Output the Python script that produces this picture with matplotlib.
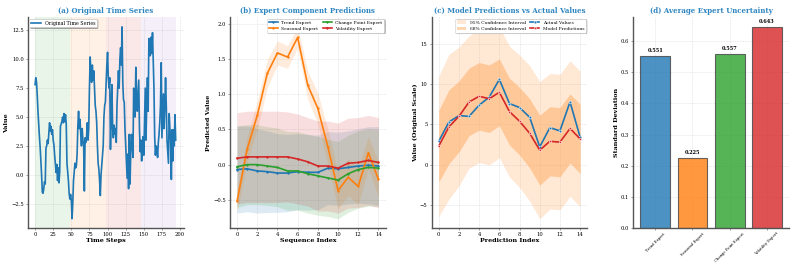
import numpy as np
import matplotlib
matplotlib.use("Agg")
import matplotlib.pyplot as plt

# ---------------- data ----------------
series = [7.8, 8.4, 8.0, 6.9, 5.5, 4.4, 3.3, 2.4, 1.2, 0.0,
          -1.5, -1.6, -1.2, -0.6, -0.8, 2.3, 2.5, 3.0, 2.7, 3.6,
          4.5, 3.8, 4.2, 3.5, 3.9, 3.0, 2.6, 1.7, 1.0, 0.2,
          0.9, -0.5, 0.6, -0.7, 0.3, 4.2, 4.4, 4.6, 5.0, 4.5,
          5.3, 4.6, 5.2, 4.4, 1.0, 0.3, -0.5, -1.6, -2.1, -1.7,
          -2.2, -3.8, -2.5, -0.5, 0.2, 1.0, 0.6, 0.8, 1.8, 4.2,
          5.5, 4.0, 4.8, 3.5, 2.5, 4.0, 3.0, 2.6, -1.4, 3.2,
          2.8, 3.2, 4.5, 3.0, 4.0, 7.5, 10.2, 9.0, 8.0, 9.5,
          8.2, 9.0, 7.5, 6.0, 5.5, 4.5, 2.5, 1.0, 0.5, -0.5,
          -1.8, 0.0, 0.8, 1.5, 2.5, 5.0, 6.0, 6.3, 8.0, 9.5,
          10.6, 8.5, 7.5, 8.4, 2.2, 5.5, 7.8, 4.0, 3.2, 4.3,
          3.5, 4.0, 2.8, 6.0, 7.5, 9.0, 7.5, 10.0, 11.0, 9.5,
          12.8, 8.0, 6.5, 6.3, 4.0, 2.5, 1.0, -0.3, 1.8, -1.2,
          3.5, -0.8, 2.0, 3.5, 2.8, 1.5, 7.5, 6.5, 5.0, 9.3,
          7.0, 5.5, 6.8, 8.2, 4.0, 2.0, 3.0, 1.2, 2.5, 3.3,
          1.7, 4.5, 7.5, 3.0, 6.0, 8.4, 5.5, 11.8, 11.0, 10.3,
          11.9, 10.5, 12.3, 10.0, 7.5, 3.3, 1.7, 2.5, 2.3, 1.5,
          2.8, 3.5, 4.5, 6.0, 9.7, 3.2, 5.0, 7.0, 4.0, 6.0,
          8.4, 6.0, 3.0, 2.0, 1.0, 5.3, 4.0, 3.0, -0.4, 3.9,
          1.2, 3.9, 2.5, 5.2, 3.0]
region_bounds = [0, 48.75, 97.5, 146.25, 195]
region_colors = ["#2ca02c", "#ff7f0e", "#d62728", "#9467bd"]

expert_names = ["Trend Expert", "Seasonal Expert", "Change Point Expert", "Volatility Expert"]
expert_colors = ["#1f77b4", "#ff7f0e", "#2ca02c", "#d62728"]

trend_mean = [-0.07, -0.06, -0.09, -0.10, -0.12, -0.12, -0.10, -0.11, -0.11, -0.05, -0.06, -0.04, -0.02, -0.01, -0.02]
trend_std = [0.62, 0.61, 0.60, 0.58, 0.56, 0.55, 0.54, 0.54, 0.53, 0.52, 0.52, 0.52, 0.53, 0.55, 0.56]
seasonal_mean = [-0.52, 0.22, 0.70, 1.30, 1.59, 1.53, 1.81, 1.13, 0.80, 0.25, -0.37, -0.18, -0.31, 0.17, -0.21]
seasonal_std = [0.16, 0.18, 0.20, 0.20, 0.17, 0.16, 0.15, 0.20, 0.22, 0.25, 0.26, 0.26, 0.26, 0.23, 0.25]
cp_mean = [-0.03, 0.00, 0.00, -0.02, -0.04, -0.09, -0.09, -0.13, -0.16, -0.19, -0.22, -0.13, -0.07, -0.04, -0.05]
cp_std = [0.58, 0.57, 0.57, 0.56, 0.56, 0.56, 0.56, 0.56, 0.56, 0.55, 0.55, 0.55, 0.55, 0.55, 0.55]
vol_mean = [0.09, 0.11, 0.11, 0.11, 0.11, 0.11, 0.08, 0.04, -0.02, -0.02, -0.05, 0.02, 0.03, 0.06, 0.03]
vol_std = [0.65, 0.65, 0.65, 0.65, 0.65, 0.64, 0.64, 0.63, 0.64, 0.64, 0.64, 0.64, 0.64, 0.64, 0.64]

actual = [2.9, 5.3, 6.1, 6.0, 7.4, 8.4, 10.6, 7.6, 7.1, 5.9, 2.2, 4.6, 4.2, 7.8, 3.4]
predicted = [2.3, 4.7, 6.0, 7.8, 8.5, 8.2, 9.0, 6.6, 5.4, 3.9, 1.8, 2.9, 2.8, 4.5, 3.2]
pred_std = [4.45, 4.6, 4.4, 4.2, 4.2, 4.2, 4.15, 4.15, 4.2, 4.3, 4.35, 4.3, 4.3, 4.3, 4.3]

avg_uncertainty = [0.551, 0.225, 0.557, 0.643]

# ---------------- style ----------------
plt.rcParams['font.family'] = ['DejaVu Serif']
TITLE_C = "#2E86C1"
TFS, LFS, TKFS, LGFS = 12.5, 11.5, 9.5, 8.5

fig = plt.figure(figsize=(7.93 * 2.5, 2.72 * 2.5), dpi=40)
W, H = 793.0, 272.0
lefts = [28, 230, 431.7, 633.3]
axw = 155.5
bot = 1 - 228.3 / H
top = 1 - 17.3 / H
axes = [fig.add_axes([l / W, bot, axw / W, top - bot]) for l in lefts]


def style(ax):
    ax.grid(True, linestyle='--', alpha=0.5, color='#bbbbbb', linewidth=0.9)
    ax.spines['top'].set_visible(False)
    ax.spines['right'].set_visible(False)
    for s in ('left', 'bottom'):
        ax.spines[s].set_linewidth(2.5)
        ax.spines[s].set_color('#555555')
    ax.tick_params(labelsize=TKFS, length=4, width=1, color='#555555')
    ax.set_axisbelow(True)


# (a)
ax = axes[0]
t = np.arange(len(series))
for i, c in enumerate(region_colors):
    ax.axvspan(region_bounds[i], region_bounds[i + 1], color=c, alpha=0.1, lw=0)
ax.plot(t, series, color='#1f77b4', lw=3, label='Original Time Series')
ax.set_title('(a) Original Time Series', fontsize=TFS, fontweight='bold', color=TITLE_C, pad=8)
ax.set_xlabel('Time Steps', fontsize=LFS, fontweight='bold', labelpad=1)
ax.set_ylabel('Value', fontsize=LFS, fontweight='bold')
ax.legend(loc='upper left', fontsize=LGFS, shadow=True, frameon=True, borderaxespad=0.3)
style(ax)

# (b)
ax = axes[1]
x = np.arange(len(trend_mean))
means = [trend_mean, seasonal_mean, cp_mean, vol_mean]
stds = [trend_std, seasonal_std, cp_std, vol_std]
for name, c, m, s in zip(expert_names, expert_colors, means, stds):
    m = np.array(m); s = np.array(s)
    ax.plot(x, m, color=c, lw=3, marker='o', markersize=3, label=name)
    ax.fill_between(x, m - s, m + s, color=c, alpha=0.15, lw=0)
ax.set_title('(b) Expert Component Predictions', fontsize=TFS, fontweight='bold', color=TITLE_C, pad=8)
ax.set_xlabel('Sequence Index', fontsize=LFS, fontweight='bold', labelpad=1)
ax.set_ylabel('Predicted Value', fontsize=LFS, fontweight='bold')
ax.set_xticks([0, 2, 4, 6, 8, 10, 12, 14])
ax.legend(loc='upper right', ncol=2, fontsize=LGFS - 0.5, shadow=True, borderaxespad=0.3, columnspacing=1.0)
style(ax)

# (c)
ax = axes[2]
x = np.arange(len(actual))
p = np.array(predicted); s = np.array(pred_std)
ax.fill_between(x, p - 1.96 * s, p + 1.96 * s, color='#ffa556', alpha=0.25, lw=0, label='95% Confidence Interval')
ax.fill_between(x, p - s, p + s, color='#ff9a40', alpha=0.4, lw=0, label='68% Confidence Interval')
ax.plot(x, actual, color='#1f77b4', lw=3, marker='o', markersize=5, markeredgecolor='white', markeredgewidth=1,
        label='Actual Values')
ax.plot(x, predicted, color='#d62728', lw=3, marker='s', markersize=5, markeredgecolor='white', markeredgewidth=1,
        label='Model Predictions')
ax.set_title('(c) Model Predictions vs Actual Values', fontsize=TFS, fontweight='bold', color=TITLE_C, pad=8)
ax.set_xlabel('Prediction Index', fontsize=LFS, fontweight='bold', labelpad=1)
ax.set_ylabel('Value (Original Scale)', fontsize=LFS, fontweight='bold')
ax.set_xticks([0, 2, 4, 6, 8, 10, 12, 14])
ax.legend(loc='upper right', ncol=2, fontsize=LGFS - 0.5, shadow=True, borderaxespad=0.3, columnspacing=1.0)
style(ax)

# (d)
ax = axes[3]
xb = np.arange(len(avg_uncertainty))
bars = ax.bar(xb, avg_uncertainty, color=expert_colors, alpha=0.8, edgecolor='#444444', linewidth=2, width=0.8)
for b, v in zip(bars, avg_uncertainty):
    ax.text(b.get_x() + b.get_width() / 2, v + 0.01, f'{v:.3f}', ha='center', va='bottom',
            fontsize=9, fontweight='bold')
ax.set_xticks(xb)
ax.set_xticklabels(expert_names, rotation=45)
ax.set_ylim(0, max(avg_uncertainty) * 1.05)
ax.set_title('(d) Average Expert Uncertainty', fontsize=TFS, fontweight='bold', color=TITLE_C, pad=8)
ax.set_ylabel('Standard Deviation', fontsize=LFS, fontweight='bold')
style(ax)
ax.tick_params(axis='x', labelsize=6.7, pad=2)

fig.savefig('out.png', dpi=40)
